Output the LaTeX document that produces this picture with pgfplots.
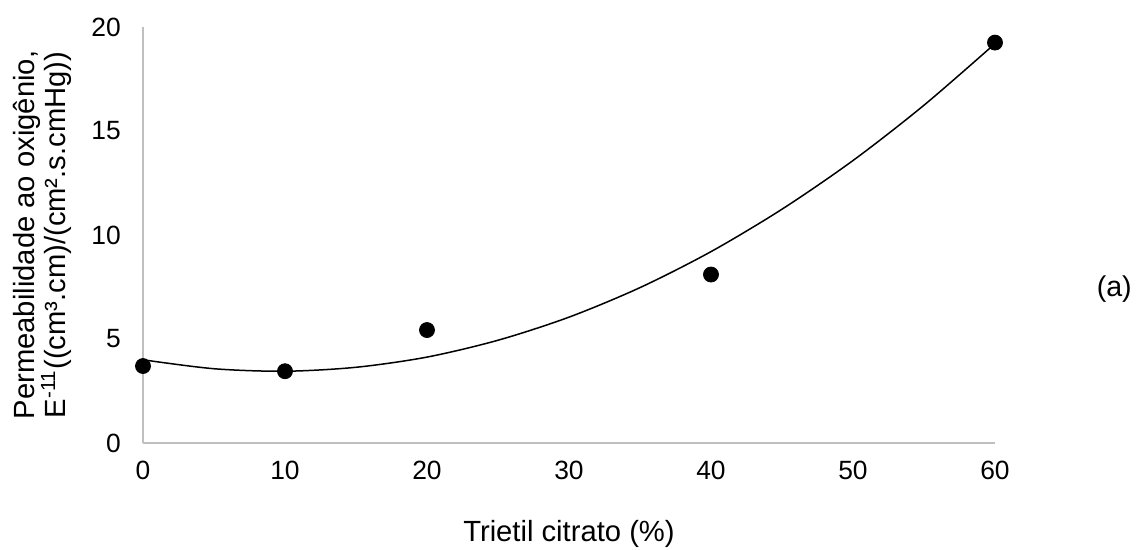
\documentclass[border=0pt]{standalone}
\usepackage{pgfplots}
\pgfplotsset{compat=1.18}
\usepackage{fontspec}
\setmainfont{Liberation Sans}
\begin{document}
\begin{tikzpicture}
\path[use as bounding box] (-71.5pt,-53.5pt) rectangle (496.5pt,221.5pt);
\begin{axis}[
  scale only axis,
  width=426pt, height=208pt,
  xmin=0, xmax=60, ymin=0, ymax=20,
  xtick={0,10,20,30,40,50,60},
  ytick={0,5,10,15,20},
  axis x line=bottom, axis y line=left,
  axis line style={draw=black!25, line width=0.9pt, -},
  major tick length=0pt,
  /pgf/number format/assume math mode=true,
  tick label style={font=\fontsize{13.2pt}{15pt}\selectfont},
  yticklabel style={xshift=-7.6pt},
  xticklabel style={yshift=-5.6pt},
  label style={font=\fontsize{14.6pt}{15.5pt}\selectfont},
  xlabel={Trietil citrato (\%)},
  xlabel style={at={(axis description cs:0.5,0)}, anchor=center, yshift=-45.5pt},
  ylabel={Permeabilidade ao oxigênio,\\E\textsuperscript{-11}((cm³.cm)/(cm².s.cmHg))},
  ylabel style={at={(axis description cs:0,0.5)}, anchor=center, yshift=50.25pt, align=center},
  clip=false,
]
\addplot[black, line width=0.75pt, smooth, no marks] coordinates {
  (0,4.00) (5,3.57) (10,3.45) (15,3.64) (20,4.13) (25,4.94) (30,6.05)
  (35,7.47) (40,9.20) (45,11.24) (50,13.58) (55,16.24) (60,19.20)
};
\addplot[only marks, mark=*, mark size=3.75pt, black] coordinates {
  (0,3.7) (10,3.45) (20,5.43) (40,8.1) (60,19.25)
};
\node[font=\fontsize{14.3pt}{16pt}\selectfont] at (axis cs:68.4,7.4) {(a)};
\end{axis}
\end{tikzpicture}
\end{document}
